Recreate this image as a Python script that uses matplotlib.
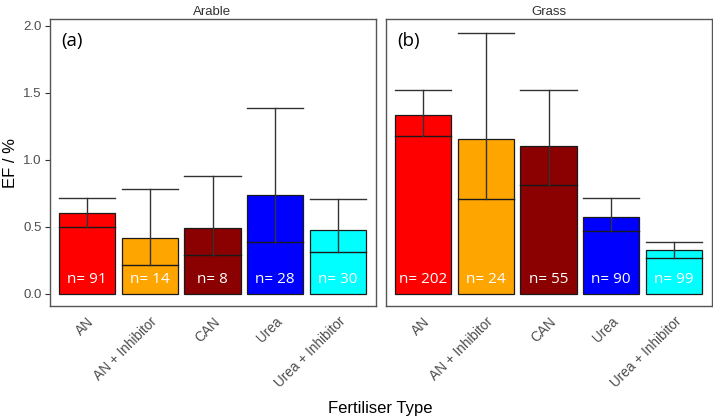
import matplotlib
matplotlib.use("Agg")
import matplotlib.pyplot as plt

categories = ["AN", "AN + Inhibitor", "CAN", "Urea", "Urea + Inhibitor"]
colors = ["#FF0000", "#FFA500", "#8B0000", "#0000FF", "#00FFFF"]
panels = ["Arable", "Grass"]
panel_tags = ["(a)", "(b)"]

arable_mean = [0.607, 0.42, 0.49, 0.74, 0.475]
arable_median = [0.50, 0.22, 0.29, 0.385, 0.315]
arable_upper = [0.72, 0.78, 0.88, 1.385, 0.71]
arable_n = [91, 14, 8, 28, 30]

grass_mean = [1.334, 1.157, 1.104, 0.577, 0.326]
grass_median = [1.177, 0.709, 0.81, 0.47, 0.266]
grass_upper = [1.52, 1.945, 1.52, 0.716, 0.386]
grass_n = [202, 24, 55, 90, 99]

data = [
    (arable_mean, arable_median, arable_upper, arable_n),
    (grass_mean, grass_median, grass_upper, grass_n),
]

W, H = 713, 419
fig = plt.figure(figsize=(W / 100, H / 100), dpi=100)

lefts = [49.5, 385.5]
pw = 326.0
top, bottom = 19.0, 306.0
gray_txt = "#4D4D4D"
bw = 0.9

for k, (left, pname, tag, (mean, med, upp, ns)) in enumerate(zip(lefts, panels, panel_tags, data)):
    ax = fig.add_axes([left / W, 1 - bottom / H, pw / W, (bottom - top) / H])
    x = list(range(1, len(categories) + 1))
    ax.bar(x, mean, width=bw, color=colors, edgecolor="#1a1a1a", linewidth=0.9, zorder=2)
    for xi, m, u in zip(x, med, upp):
        ax.plot([xi - bw / 2, xi + bw / 2], [m, m], color="#1a1a1a", lw=1.0, zorder=3)
        ax.plot([xi, xi], [m, u], color="#333333", lw=1.0, zorder=3)
        ax.plot([xi - bw / 2, xi + bw / 2], [u, u], color="#333333", lw=1.0, zorder=3)
    for xi, n in zip(x, ns):
        ax.text(xi, 0.105, f"n= {n}", color="white", ha="center", va="center",
                fontsize=11, family="Open Sans", zorder=4)
    ax.text(0.035, 0.925, tag, transform=ax.transAxes, fontsize=13.5,
            family="Open Sans", ha="left", va="center")
    ax.set_xlim(0.4, 5.6)
    ax.set_ylim(-0.0896, 2.052)
    ax.set_xticks(x)
    ax.set_xticklabels(categories, rotation=45, ha="right", rotation_mode="anchor",
                       fontsize=9.8, color=gray_txt, family="Liberation Sans")
    ax.tick_params(axis="x", length=0, pad=6)
    if k == 0:
        ax.set_yticks([0.0, 0.5, 1.0, 1.5, 2.0])
        ax.set_yticklabels(["0.0", "0.5", "1.0", "1.5", "2.0"], fontsize=9.5,
                           color=gray_txt, family="Liberation Sans")
        ax.tick_params(axis="y", length=3.5, width=0.8, color="#333333", pad=2)
        ax.set_ylabel("EF / %", fontsize=12, family="Liberation Sans", labelpad=4)
    else:
        ax.set_yticks([])
    for sp in ax.spines.values():
        sp.set_color("#555555")
        sp.set_linewidth(1.0)
    ax.set_title(pname, fontsize=9.5, color="#333333", family="Liberation Sans", pad=3)

fig.text((49.5 + 711.5) / 2 / W, 1 - 408 / H, "Fertiliser Type", ha="center", va="center",
         fontsize=12, family="Liberation Sans")

fig.savefig("out.png", dpi=100)
